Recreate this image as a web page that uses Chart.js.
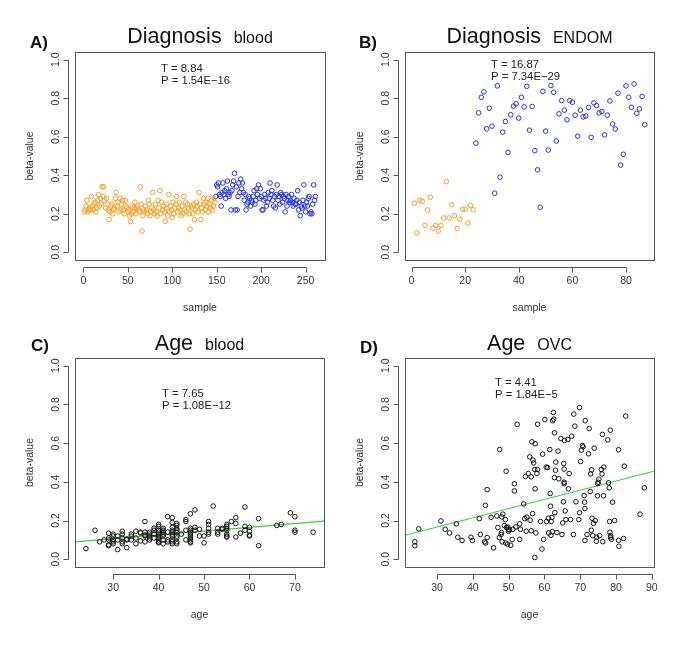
<!DOCTYPE html>
<html><head><meta charset="utf-8">
<script src="https://cdn.jsdelivr.net/npm/chart.js@4/dist/chart.umd.min.js"></script>
<style>
html,body{margin:0;padding:0;background:#fff;}
body{width:685px;height:647px;position:relative;overflow:hidden;}
canvas{position:absolute;display:block;}
</style></head><body>
<canvas id="cA" width="342" height="320" style="left:0;top:0"></canvas>
<canvas id="cB" width="343" height="320" style="left:342px;top:0"></canvas>
<canvas id="cC" width="342" height="327" style="left:0;top:320px"></canvas>
<canvas id="cD" width="343" height="327" style="left:342px;top:320px"></canvas>
<script>
// ---------- DATA ----------
const yTicks = [0, 0.2, 0.4, 0.6, 0.8, 1.0];
const yTickLabels = ["0.0", "0.2", "0.4", "0.6", "0.8", "1.0"];
const xTicksA = [0, 50, 100, 150, 200, 250];
const xTicksB = [0, 20, 40, 60, 80];
const xTicksC = [30, 40, 50, 60, 70];
const xTicksD = [30, 40, 50, 60, 70, 80, 90];

// A) Diagnosis blood: samples 1..148 (orange), 149..261 (blue)
const bloodCtrlBeta = [
 .21,.22,.24,.27,.21,.22,.23,.22,.29,.24,
 .22,.25,.26,.21,.23,.27,.30,.24,.28,.25,
 .34,.29,.34,.27,.23,.28,.25,.22,.17,.21,
 .24,.25,.20,.22,.23,.28,.31,.24,.26,.21,
 .28,.22,.25,.27,.22,.20,.27,.24,.23,.21,
 .22,.19,.16,.20,.24,.21,.23,.26,.20,.23,
 .24,.22,.21,.34,.25,.11,.19,.22,.21,.24,
 .22,.20,.27,.25,.19,.21,.23,.31,.22,.20,
 .25,.21,.19,.27,.23,.32,.20,.26,.22,.24,
 .21,.16,.23,.25,.19,.30,.21,.24,.22,.18,
 .26,.20,.23,.25,.29,.21,.23,.26,.22,.19,
 .24,.20,.29,.22,.26,.21,.25,.23,.20,.12,
 .24,.23,.20,.25,.17,.22,.26,.24,.21,.31,
 .25,.17,.23,.21,.28,.25,.22,.26,.24,.28,
 .21,.25,.23,.27,.22,.24,.28,.26];
const bloodCaseBeta = [
 .29,.35,.34,.36,.30,.29,.24,.31,.36,.30,
 .32,.28,.33,.37,.30,.29,.31,.22,.32,.35,
 .37,.41,.22,.34,.22,.29,.36,.31,.38,.33,
 .36,.31,.27,.30,.22,.25,.26,.29,.28,.24,
 .27,.26,.29,.32,.25,.27,.33,.30,.35,.28,
 .33,.29,.22,.22,.27,.30,.28,.24,.26,.31,
 .28,.36,.30,.32,.27,.24,.29,.23,.30,.35,
 .27,.29,.25,.31,.30,.26,.29,.28,.21,.30,
 .24,.27,.29,.26,.27,.30,.26,.24,.28,.25,
 .25,.27,.32,.22,.26,.19,.24,.23,.27,.35,
 .24,.21,.26,.24,.28,.29,.20,.21,.20,.25,
 .35,.27,.29];

// B) Diagnosis ENDOM: samples 1..23 (orange), 24..87 (blue)
const endomCtrlBeta = [.255,.10,.27,.265,.14,.22,.285,.125,.14,.11,.14,.178,.367,.178,.247,.19,.124,.172,.224,.224,.152,.243,.221];
const endomCaseBeta = [
 .567,.724,.805,.833,.641,.748,.655,.307,.864,.39,
 .624,.679,.519,.714,.759,.771,.697,.805,.755,.862,
 .634,.757,.528,.428,.234,.836,.629,.531,.866,.831,
 .578,.719,.788,.738,.688,.788,.779,.712,.603,.738,
 .703,.707,.752,.597,.776,.762,.724,.731,.61,.712,
 .786,.666,.64,.826,.453,.509,.864,.805,.753,.874,
 .722,.745,.809,.662];

// C) Age blood
const ageBloodAge = [
 24,26,27,28,
 29,29,29,29,29,
 30,30,30,30,30,
 31,31,31,
 32,32,32,32,32,
 33,33,33,
 34,34,34,
 35,35,35,
 36,36,36,
 37,37,37,37,37,
 38,38,38,38,38,
 39,39,39,39,
 40,40,40,40,40,40,40,40,40,40,
 41,41,41,41,41,41,41,
 42,42,42,42,
 43,43,43,43,43,43,43,43,43,43,
 44,44,44,44,44,44,44,44,44,
 45,
 46,46,46,46,
 47,47,47,47,47,47,47,47,47,47,
 48,48,48,
 49,49,
 50,50,
 51,51,51,51,51,
 52,
 53,53,53,
 54,54,
 55,55,55,55,55,55,55,
 56,
 57,57,57,
 58,
 59,59,59,
 60,60,60,60,
 62,62,
 66,67,69,
 70,70,70,
 74];
const ageBloodBeta = [
 .055,.15,.09,.10,
 .135,.075,.07,.11,.10,
 .12,.10,.09,.13,.08,
 .05,.12,.10,
 .145,.13,.09,.08,.11,
 .06,.10,.105,
 .13,.10,.12,
 .145,.08,.11,
 .14,.135,.095,
 .195,.09,.12,.125,.14,
 .11,.13,.14,.10,.12,
 .15,.13,.11,.16,
 .18,.17,.15,.14,.13,.12,.11,.10,.09,.085,
 .16,.15,.13,.12,.08,.10,.14,
 .22,.09,.10,.14,
 .215,.19,.165,.15,.14,.13,.12,.10,.09,.08,
 .185,.175,.16,.15,.14,.12,.11,.09,.08,
 .13,
 .205,.195,.15,.10,
 .235,.16,.15,.14,.13,.12,.11,.10,.09,.085,
 .255,.165,.15,
 .155,.12,
 .085,.12,
 .195,.18,.16,.14,.13,
 .275,
 .16,.14,.13,
 .16,.155,
 .18,.17,.16,.15,.13,.12,.115,
 .195,
 .215,.185,.115,
 .135,
 .27,.17,.15,
 .165,.145,.12,.125,
 .21,.07,
 .175,.18,.24,
 .22,.15,.14,
 .14];
const ageBloodFitAge = [21.6, 76.4];
const ageBloodFitBeta = [0.090, 0.197];

// D) Age OVC
const ageOvcAge = [
 23.8,23.8,24.9,31.1,32.3,33.5,35.4,35.8,37.0,39.5,
 39.9,41.8,42.1,43.3,43.5,43.6,44.0,44.0,45.1,45.8,
 46.7,47.0,47.5,47.4,47.9,48.0,48.1,48.2,48.4,48.8,
 49.1,49.2,49.3,49.4,49.7,49.8,49.9,50.0,50.2,50.6,
 51.0,51.2,51.6,51.6,52.0,52.4,53.1,53.1,53.3,54.2,
 54.5,54.7,54.9,55.1,55.5,55.9,56.0,56.3,56.3,56.5,
 56.7,56.8,57.0,57.3,57.3,57.4,57.4,57.6,57.9,58.1,
 58.1,58.9,59.3,59.5,59.8,60.1,60.5,60.6,60.9,61.1,
 61.2,61.5,61.6,61.7,61.8,61.9,62.1,62.2,62.3,62.5,
 62.6,62.8,62.8,62.9,63.1,63.2,63.5,63.8,64.0,64.6,
 64.9,65.1,65.3,65.4,65.5,65.5,65.5,65.6,65.8,66.0,
 66.5,66.7,66.9,67.3,67.6,68.1,68.2,68.5,68.8,69.6,
 69.8,69.8,70.1,70.3,70.6,70.8,71.1,71.2,71.3,71.3,
 71.4,71.9,72.3,72.5,72.8,72.9,73.1,73.2,73.3,73.5,
 73.7,73.9,74.2,74.5,74.6,74.8,74.9,75.0,75.2,75.4,
 75.9,76.1,76.2,76.3,76.5,76.6,77.7,77.9,78.1,78.2,
 78.3,78.4,78.5,78.5,78.7,79.0,79.6,80.7,80.7,80.8,
 82.1,82.3,82.7,86.7,87.9];
const ageOvcBeta = [
 .09,.07,.157,.198,.155,.136,.183,.114,.097,.114,
 .097,.21,.128,.09,.279,.084,.36,.112,.217,.059,
 .224,.164,.567,.112,.128,.138,.219,.09,.233,.174,
 .205,.084,.455,.164,.078,.166,.155,.145,.152,.072,
 .102,.155,.39,.353,.167,.697,.183,.103,.155,.286,
 .21,.428,.145,.217,.443,.529,.202,.147,.426,.607,
 .236,.512,.498,.009,.464,.364,.597,.136,.443,.698,
 .464,.195,.053,.543,.103,.722,.476,.195,.474,.212,
 .136,.567,.34,.274,.124,.195,.216,.143,.716,.759,
 .724,.653,.422,.241,.46,.502,.138,.559,.416,.624,
 .128,.188,.297,.495,.466,.398,.391,.614,.25,.205,
 .619,.364,.443,.205,.636,.128,.75,.688,.297,.205,
 .784,.24,.505,.564,.588,.581,.329,.295,.262,.097,
 .716,.128,.545,.676,.35,.441,.15,.462,.212,.122,
 .186,.574,.2,.093,.114,.328,.391,.398,.414,.122,
 .464,.441,.645,.091,.328,.476,.617,.395,.369,.195,
 .14,.667,.122,.112,.103,.295,.2,.566,.098,.067,
 .107,.481,.74,.233,.369];
const ageOvcFitAge = [21.06, 90.6];
const ageOvcFitBeta = [0.124, 0.455];

// ---------- DRAWING ----------
const FONT = '"Liberation Sans", Arial, Helvetica, sans-serif';
const ORANGE = '#f4a12a', BLUE = '#2433ec', BLACK = '#141414', GREEN = '#33d633';

const rPlot = {
  id: 'rPlot',
  beforeDraw(chart) {
    const c = chart.ctx; c.save(); c.fillStyle = '#fff';
    c.fillRect(0, 0, chart.width, chart.height); c.restore();
  },
  afterDraw(chart, args, o) {
    const c = chart.ctx, ca = chart.chartArea, x = chart.scales.x, y = chart.scales.y;
    c.save();
    c.strokeStyle = '#555'; c.lineWidth = 1;
    const L = Math.round(ca.left) + 0.5, T = Math.round(ca.top) + 0.5;
    c.strokeRect(L, T, Math.round(ca.right - ca.left), Math.round(ca.bottom - ca.top));
    // y axis
    const ax = Math.round(ca.left - 7) + 0.5;
    c.beginPath();
    c.moveTo(ax, Math.round(y.getPixelForValue(yTicks[0])) + 0.5);
    c.lineTo(ax, Math.round(y.getPixelForValue(yTicks[yTicks.length - 1])) + 0.5);
    yTicks.forEach(v => { const p = Math.round(y.getPixelForValue(v)) + 0.5; c.moveTo(ax, p); c.lineTo(ax - 5, p); });
    // x axis
    const ay = Math.round(ca.bottom + 7) + 0.5, xt = o.xTicks;
    c.moveTo(Math.round(x.getPixelForValue(xt[0])) + 0.5, ay);
    c.lineTo(Math.round(x.getPixelForValue(xt[xt.length - 1])) + 0.5, ay);
    xt.forEach(v => { const p = Math.round(x.getPixelForValue(v)) + 0.5; c.moveTo(p, ay); c.lineTo(p, ay + 5); });
    c.stroke();
    // tick labels
    c.fillStyle = '#333'; c.font = '10.5px ' + FONT; c.textAlign = 'center'; c.textBaseline = 'middle';
    yTicks.forEach((v, i) => {
      c.save(); c.translate(ca.left - 18.5, y.getPixelForValue(v)); c.rotate(-Math.PI / 2);
      c.fillText(yTickLabels[i], 0, 0); c.restore();
    });
    xt.forEach(v => c.fillText(String(v), x.getPixelForValue(v), ca.bottom + 21));
    // axis titles
    const cx = (ca.left + ca.right) / 2, cy = (ca.top + ca.bottom) / 2;
    c.fillText(o.xTitle, cx, ca.bottom + 48);
    c.save(); c.translate(ca.left - 45, cy); c.rotate(-Math.PI / 2); c.fillText('beta-value', 0, 0); c.restore();
    // main title
    c.fillStyle = '#111'; c.textBaseline = 'alphabetic'; c.textAlign = 'left';
    c.font = '21.5px ' + FONT; const wm = c.measureText(o.main).width;
    c.font = '16px ' + FONT; const ws = c.measureText(o.sub).width;
    const x0 = cx - (wm + 12 + ws) / 2;
    c.font = '21.5px ' + FONT; c.fillText(o.main, x0, o.titleY);
    c.font = '16px ' + FONT; c.fillText(o.sub, x0 + wm + 12, o.titleY);
    // panel label
    c.font = 'bold 17px ' + FONT; c.fillText(o.label, o.labelX, o.labelY);
    // annotation
    c.fillStyle = '#222'; c.font = '11.3px ' + FONT;
    c.fillText(o.ann[0], o.annX, o.annY);
    c.fillText(o.ann[1], o.annX, o.annY + 12);
    c.restore();
  }
};

function pts(xs, ys) { return ys.map((v, i) => ({ x: xs[i], y: v })); }
function idx(start, ys) { return ys.map((v, i) => ({ x: start + i, y: v })); }
function scatter(data, color) {
  return { type: 'scatter', data, pointStyle: 'circle', pointRadius: 2.3, pointBorderWidth: 1,
    pointBorderColor: color, pointBackgroundColor: 'rgba(0,0,0,0)', borderColor: color, showLine: false };
}
function fitLine(xs, ys) {
  return { type: 'line', data: pts(xs, ys), borderColor: GREEN, borderWidth: 1.2, pointRadius: 0, fill: false, tension: 0 };
}
function make(id, datasets, xmin, xmax, pad, o) {
  new Chart(document.getElementById(id), {
    type: 'scatter',
    data: { datasets },
    options: {
      responsive: false, animation: false, events: [],
      layout: { padding: pad },
      plugins: { legend: { display: false }, tooltip: { enabled: false }, rPlot: o },
      scales: {
        x: { type: 'linear', min: xmin, max: xmax, display: false },
        y: { type: 'linear', min: -0.04, max: 1.04, display: false }
      }
    },
    plugins: [rPlot]
  });
}

make('cA', [scatter(idx(1, bloodCtrlBeta), ORANGE), scatter(idx(1 + bloodCtrlBeta.length, bloodCaseBeta), BLUE)],
  -9.4, 271.8, { left: 75, top: 52, right: 17, bottom: 60 },
  { xTicks: xTicksA, xTitle: 'sample', main: 'Diagnosis', sub: 'blood', titleY: 43, label: 'A)', labelX: 30, labelY: 48,
    ann: ['T = 8.84', 'P = 1.54E\u221216'], annX: 161, annY: 72 });

make('cB', [scatter(idx(1, endomCtrlBeta), ORANGE), scatter(idx(1 + endomCtrlBeta.length, endomCaseBeta), BLUE)],
  -2.44, 90.44, { left: 63, top: 52, right: 31, bottom: 60 },
  { xTicks: xTicksB, xTitle: 'sample', main: 'Diagnosis', sub: 'ENDOM', titleY: 43, label: 'B)', labelX: 17, labelY: 48,
    ann: ['T = 16.87', 'P = 7.34E\u221229'], annX: 149, annY: 67.5 });

make('cC', [scatter(pts(ageBloodAge, ageBloodBeta), BLACK), fitLine(ageBloodFitAge, ageBloodFitBeta)],
  21.6, 76.4, { left: 75, top: 38, right: 18, bottom: 80 },
  { xTicks: xTicksC, xTitle: 'age', main: 'Age', sub: 'blood', titleY: 29.5, label: 'C)', labelX: 31, labelY: 31,
    ann: ['T = 7.65', 'P = 1.08E\u221212'], annX: 162, annY: 77 });

make('cD', [scatter(pts(ageOvcAge, ageOvcBeta), BLACK), fitLine(ageOvcFitAge, ageOvcFitBeta)],
  21.06, 90.6, { left: 63, top: 38, right: 31, bottom: 80 },
  { xTicks: xTicksD, xTitle: 'age', main: 'Age', sub: 'OVC', titleY: 29.5, label: 'D)', labelX: 18, labelY: 33,
    ann: ['T = 4.41', 'P = 1.84E\u22125'], annX: 153, annY: 65.5 });
</script>
</body></html>
